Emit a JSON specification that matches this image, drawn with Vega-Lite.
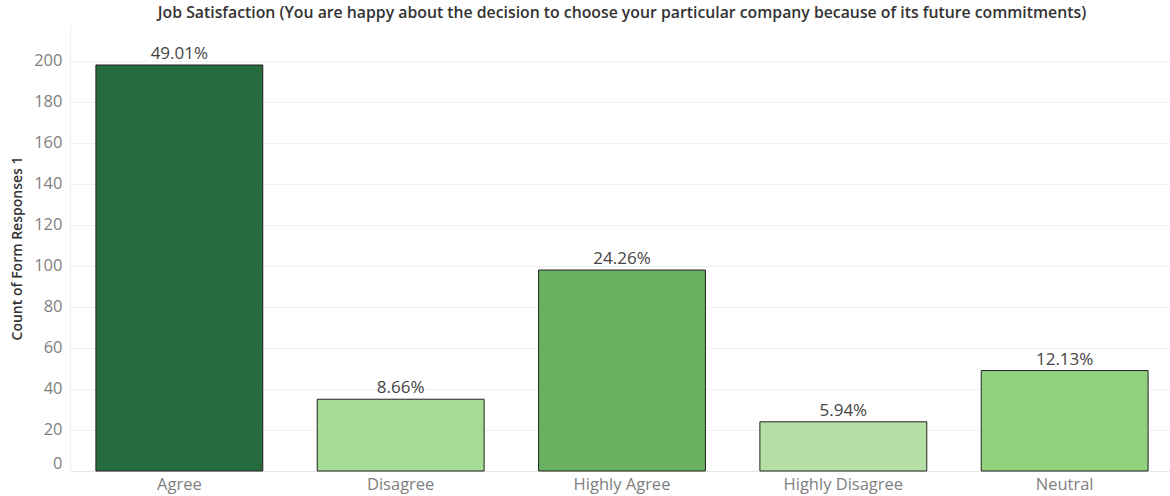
{
  "$schema": "https://vega.github.io/schema/vega-lite/v6.json",
  "width": 1104,
  "height": 446,
  "autosize": "none",
  "padding": {"left": 70, "top": 25, "right": 0, "bottom": 25},
  "background": "white",
  "title": {
    "text": "Job Satisfaction (You are happy about the decision to choose your particular company because of its future commitments)",
    "font": "Open Sans",
    "fontSize": 15.8,
    "fontWeight": 600,
    "color": "#333333",
    "anchor": "middle",
    "offset": 3
  },
  "data": {
    "values": [
      {"response": "Agree", "count": 198, "pct": "49.01%", "shade": "s1"},
      {"response": "Disagree", "count": 35, "pct": "8.66%", "shade": "s4"},
      {"response": "Highly Agree", "count": 98, "pct": "24.26%", "shade": "s2"},
      {"response": "Highly Disagree", "count": 24, "pct": "5.94%", "shade": "s5"},
      {"response": "Neutral", "count": 49, "pct": "12.13%", "shade": "s3"}
    ]
  },
  "encoding": {
    "x": {
      "field": "response",
      "type": "nominal",
      "sort": null,
      "scale": {"paddingInner": 0.246, "paddingOuter": 0.117},
      "axis": {
        "title": null,
        "labelAngle": 0,
        "labelFont": "Open Sans",
        "labelFontSize": 16.5,
        "labelColor": "#808080",
        "labelPadding": 5,
        "ticks": false,
        "domainColor": "#e6e6e6",
        "grid": false
      }
    },
    "y": {
      "field": "count",
      "type": "quantitative",
      "scale": {"domain": [0, 217.5], "nice": false},
      "axis": {
        "title": "Count of Form Responses 1",
        "titleFont": "Open Sans",
        "titleFontSize": 14,
        "titleFontWeight": 600,
        "titleColor": "#333333",
        "titlePadding": 9,
        "values": [0, 20, 40, 60, 80, 100, 120, 140, 160, 180, 200],
        "labelFont": "Open Sans",
        "labelFontSize": 16.5,
        "labelColor": "#808080",
        "labelPadding": 8,
        "labelBaseline": {"condition": {"test": "datum.value == 0", "value": "bottom"}, "value": "middle"},
        "ticks": false,
        "domainColor": "#eeeeee",
        "gridColor": "#f0f0f0",
        "gridWidth": 1
      }
    }
  },
  "layer": [
    {
      "mark": {"type": "bar", "stroke": "#222222", "strokeWidth": 1},
      "encoding": {
        "color": {
          "field": "shade",
          "type": "nominal",
          "scale": {
            "domain": ["s1", "s2", "s3", "s4", "s5"],
            "range": ["#256b3e", "#69b060", "#92d27f", "#a5dc93", "#b4e0a5"]
          },
          "legend": null
        }
      }
    },
    {
      "mark": {"type": "text", "baseline": "bottom", "dy": -2, "font": "Open Sans", "fontSize": 17, "color": "#444444"},
      "encoding": {"text": {"field": "pct"}}
    }
  ],
  "config": {"view": {"stroke": null}}
}
